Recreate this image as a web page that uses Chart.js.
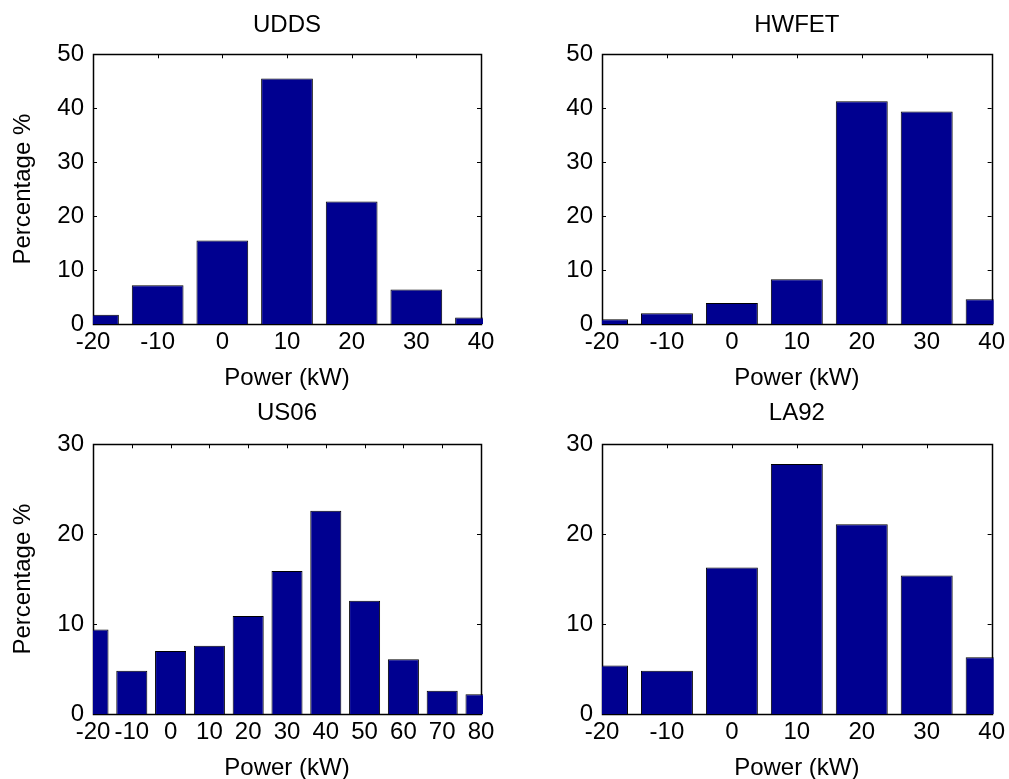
<!DOCTYPE html>
<html>
<head>
<meta charset="utf-8">
<script src="https://cdn.jsdelivr.net/npm/chart.js@4/dist/chart.umd.min.js"></script>
<style>
  html, body { margin: 0; padding: 0; background: #fff; overflow: hidden; }
  body { width: 1009px; height: 779px; position: relative; }
  .panel { position: absolute; }
</style>
</head>
<body>
<div class="panel" style="left:0;top:0;width:500px;height:390px"><canvas id="udds"></canvas></div>
<div class="panel" style="left:500px;top:0;width:509px;height:390px"><canvas id="hwfet"></canvas></div>
<div class="panel" style="left:0;top:390px;width:500px;height:390px"><canvas id="us06"></canvas></div>
<div class="panel" style="left:500px;top:390px;width:509px;height:390px"><canvas id="la92"></canvas></div>
<script>
// power bins (kW) and share of time in each bin (%)
const powerBins = [-20, -10, 0, 10, 20, 30, 40]
const us06Bins = [-20, -10, 0, 10, 20, 30, 40, 50, 60, 70, 80]

const uddsPct = [1.7, 7.2, 15.5, 45.5, 22.7, 6.4, 1.2]
const hwfetPct = [0.9, 2.0, 3.9, 8.3, 41.3, 39.4, 4.6]
const us06Pct = [9.4, 4.8, 7.0, 7.6, 10.9, 15.9, 22.6, 12.6, 6.1, 2.6, 2.2]
const la92Pct = [5.4, 4.8, 16.3, 27.8, 21.1, 15.4, 6.3]

const yTicksTop = [0, 10, 20, 30, 40, 50]
const yTicksBottom = [0, 10, 20, 30]

const FONT = "'Liberation Sans', Arial, sans-serif"
const SIZE = 24
const BAR_COLOR = "#000090"

// MATLAB-like box with inward tick marks
const boxPlugin = {
  id: "box",
  beforeDatasetsDraw(chart) {
    const { ctx, chartArea: a, scales: { x, y } } = chart
    const len = 4
    ctx.save()
    ctx.strokeStyle = "#000"
    ctx.lineWidth = 1
    ctx.beginPath()
    x.ticks.forEach(t => {
      const px = Math.round(x.getPixelForValue(t.value)) + 0.5
      ctx.moveTo(px, a.bottom); ctx.lineTo(px, a.bottom - len)
      ctx.moveTo(px, a.top); ctx.lineTo(px, a.top + len)
    })
    y.ticks.forEach(t => {
      const py = Math.round(y.getPixelForValue(t.value)) + 0.5
      ctx.moveTo(a.left, py); ctx.lineTo(a.left + len, py)
      ctx.moveTo(a.right, py); ctx.lineTo(a.right - len, py)
    })
    ctx.stroke()
    ctx.lineWidth = 1.5
    ctx.strokeRect(Math.round(a.left) + 0.5, Math.round(a.top) + 0.5,
      Math.round(a.right - a.left), Math.round(a.bottom - a.top))
    ctx.restore()
  }
}

function makeChart(id, opts) {
  const { title, bins, values, xMax, yTicks, leftWidth, rightPad, showYTitle, titleTop } = opts
  const font = { family: FONT, size: SIZE }

  return new Chart(document.getElementById(id), {
    type: "bar",
    data: {
      datasets: [{
        data: bins.map((b, i) => ({ x: b, y: values[i] })),
        backgroundColor: BAR_COLOR,
        borderColor: "#000",
        borderWidth: 1,
        barPercentage: 0.8,
        categoryPercentage: 1.0,
        clip: { left: 0, right: 2, top: false, bottom: 0 }
      }]
    },
    options: {
      responsive: true,
      maintainAspectRatio: false,
      animation: false,
      layout: { padding: { left: 0, right: rightPad, top: 0, bottom: 0 } },
      plugins: {
        legend: { display: false },
        tooltip: { enabled: false },
        title: {
          display: true,
          text: title,
          fullSize: false,
          color: "#000",
          font: { family: FONT, size: SIZE, weight: "normal", lineHeight: 1.2 },
          padding: { top: titleTop, bottom: 54.3 - titleTop - SIZE * 1.2 }
        }
      },
      scales: {
        x: {
          type: "linear",
          min: -20,
          max: xMax,
          offset: false,
          grid: { display: false, drawTicks: false, offset: false },
          border: { display: false },
          afterBuildTicks: s => { s.ticks = bins.map(v => ({ value: v })) },
          afterFit: s => { s.height = 66 },
          ticks: { color: "#000", font, padding: 4, maxRotation: 0, autoSkip: false },
          title: {
            display: true,
            text: "Power (kW)",
            color: "#000",
            font: { family: FONT, size: SIZE, lineHeight: 1 },
            padding: { top: 0, bottom: 0 }
          }
        },
        y: {
          min: 0,
          max: yTicks[yTicks.length - 1],
          grid: { display: false, drawTicks: false },
          border: { display: false },
          afterBuildTicks: s => { s.ticks = yTicks.map(v => ({ value: v })) },
          afterFit: s => { s.width = leftWidth },
          ticks: { color: "#000", font, padding: 9 },
          title: {
            display: showYTitle,
            text: "Percentage %",
            color: "#000",
            font: { family: FONT, size: SIZE, lineHeight: 1.2 },
            padding: { top: 9, bottom: 0 }
          }
        }
      }
    },
    plugins: [boxPlugin]
  })
}

makeChart("udds", { title: "UDDS", bins: powerBins, values: uddsPct, xMax: 40, yTicks: yTicksTop,
  leftWidth: 93, rightPad: 19, showYTitle: true, titleTop: 11 })
makeChart("hwfet", { title: "HWFET", bins: powerBins, values: hwfetPct, xMax: 40, yTicks: yTicksTop,
  leftWidth: 102, rightPad: 17, showYTitle: false, titleTop: 11 })
makeChart("us06", { title: "US06", bins: us06Bins, values: us06Pct, xMax: 80, yTicks: yTicksBottom,
  leftWidth: 93, rightPad: 19, showYTitle: true, titleTop: 9 })
makeChart("la92", { title: "LA92", bins: powerBins, values: la92Pct, xMax: 40, yTicks: yTicksBottom,
  leftWidth: 102, rightPad: 17, showYTitle: false, titleTop: 9 })
</script>
</body>
</html>
